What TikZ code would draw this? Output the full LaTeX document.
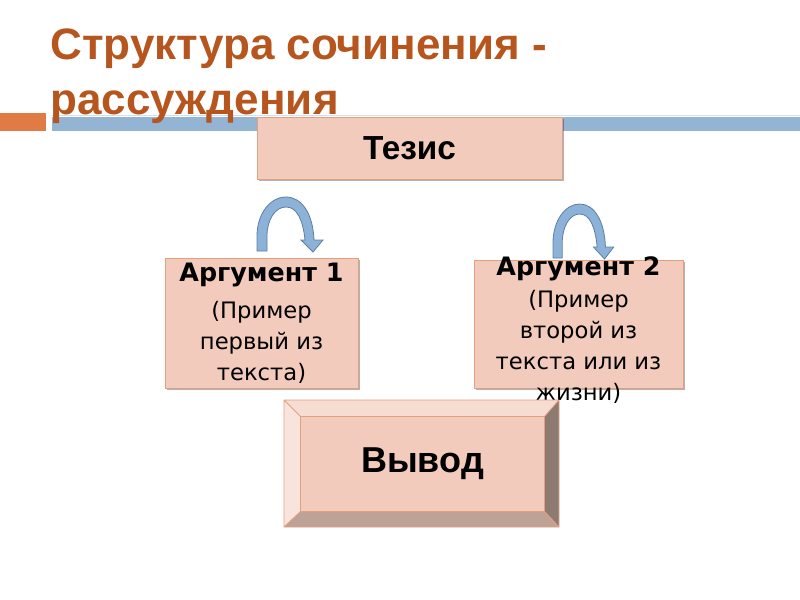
\documentclass[tikz,border=0pt]{standalone}
\usepackage{fontspec}
\setmainfont{Liberation Sans}
\newfontfamily\argfont{DejaVu Sans}
\usetikzlibrary{shadows}

\definecolor{titlebrown}{HTML}{B6561E}
\definecolor{barorange}{HTML}{E07B45}
\definecolor{barblue}{HTML}{94B4D3}
\definecolor{boxfill}{HTML}{F2CBBD}
\definecolor{boxline}{HTML}{E3A07F}
\definecolor{loopfill}{HTML}{8DB2D7}
\definecolor{loopline}{HTML}{5C7FA3}
\definecolor{beveltop}{HTML}{F6DCD1}
\definecolor{bevelleft}{HTML}{F8E4DC}
\definecolor{bevelright}{HTML}{8D7A70}
\definecolor{bevelbottom}{HTML}{BEA295}

\tikzset{every picture/.style={line width=0.75pt}}
\tikzset{
  slidebox/.style={draw=boxline, fill=boxfill, inner sep=0pt,
    drop shadow={shadow xshift=1.5pt, shadow yshift=-1.5pt, opacity=0.3, fill=black}},
  argtext/.style={align=center, inner sep=0pt, font=\argfont\fontsize{17}{23.2}\selectfont},
  loopback/.pic={
    \draw[loopline, fill=loopfill, line width=0.6pt]
      (0,0) -- (0,15) .. controls (0,37) and (13,54) .. (29,54)
      .. controls (45,54) and (56,37) .. (57,11) -- (66,11) -- (56,-1)
      -- (44,11) -- (48,11) .. controls (46,31) and (40,44) .. (29,44)
      .. controls (18,44) and (10,31) .. (10,15) -- (10,0) -- cycle ;
  }
}

\begin{document}
\begin{tikzpicture}[x=0.75pt,y=0.75pt,yscale=-1,xscale=1]
	\useasboundingbox (0,0) rectangle (800,600);
	%Shape: Rectangle (bars)
	\fill[barorange] (0,113) rectangle (46,131) ;
	\fill[barblue] (52,117) rectangle (800,131) ;
	\draw[barblue!40, line width=0.5pt] (52,115) -- (800,115) ;
	% Title
	\node[anchor=north west, inner sep=0pt, align=left, text=titlebrown,
	  font=\bfseries\fontsize{33}{41.5}\selectfont] (title) at (50,28)
	  {Структура сочинения -\\рассуждения};

	% Thesis
	\node[slidebox, minimum width=228.75pt, minimum height=46.5pt,
	  font=\bfseries\fontsize{25}{28}\selectfont] (thesis) at (409.5,148) {Тезис};

	% Arguments
	\node[slidebox, minimum width=144.75pt, minimum height=97.5pt] (arg1) at (261.5,323) {};
	\node[slidebox, minimum width=156.75pt, minimum height=96pt] (arg2) at (578.5,324) {};

	% Loop arrows
	\pic at (257,251) {loopback};
	\pic[xscale=0.92] at (553,258) {loopback};

	% Text Node
	\node[argtext] (arg1text) at (arg1.center)
	  {{\bfseries\fontsize{19}{23.2}\selectfont Аргумент 1}\\[5pt](Пример\\первый из\\текста)};
	% Text Node
	\node[argtext] (arg2text) at (578.5,330)
	  {{\bfseries\fontsize{19}{23.2}\selectfont Аргумент 2}\\[1pt](Пример\\второй из\\текста или из\\жизни)};

	% Conclusion (bevel)
	\node[fill=boxfill, minimum width=182.25pt, minimum height=70.5pt, inner sep=0pt,
	  font=\bfseries\fontsize{27}{30}\selectfont] (concl) at (422.5,464) {Вывод};
	\coordinate (ow) at (284,400);
	\coordinate (oe) at (559,400);
	\coordinate (se) at (559,527);
	\coordinate (sw) at (284,527);
	\fill[beveltop] (ow) -- (oe) -- (concl.north east) -- (concl.north west) -- cycle ;
	\fill[bevelleft] (ow) -- (concl.north west) -- (concl.south west) -- (sw) -- cycle ;
	\fill[bevelright] (oe) -- (se) -- (concl.south east) -- (concl.north east) -- cycle ;
	\fill[bevelbottom] (sw) -- (concl.south west) -- (concl.south east) -- (se) -- cycle ;
	\draw[boxline, line width=0.6pt] (ow) -- (oe) -- (se) -- (sw) -- cycle
	  (ow) -- (concl.north west) (oe) -- (concl.north east)
	  (se) -- (concl.south east) (sw) -- (concl.south west) ;
	\draw[boxline, line width=0.6pt] (concl.north west) rectangle (concl.south east) ;
\end{tikzpicture}
\end{document}
